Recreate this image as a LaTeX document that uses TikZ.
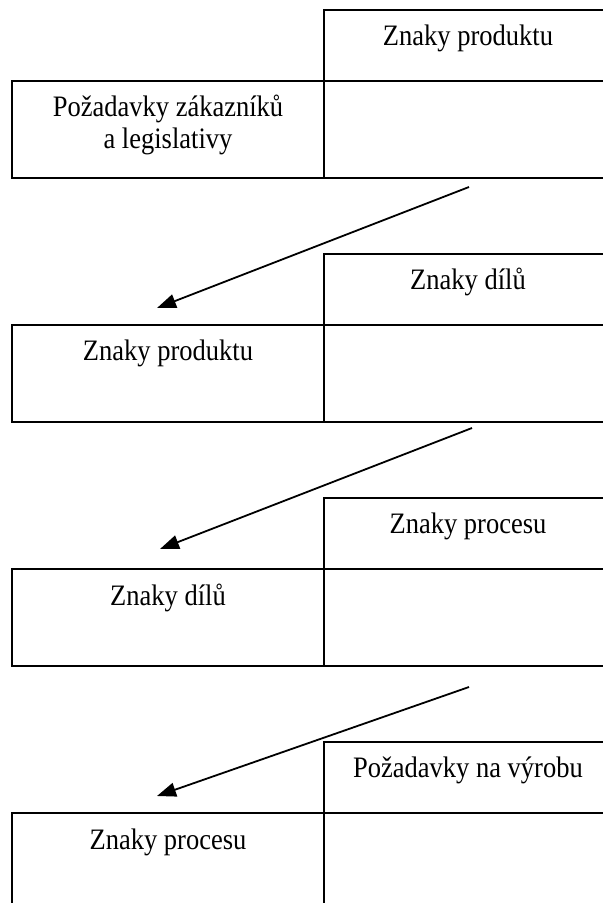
\documentclass[tikz,border=0pt]{standalone}
\usepackage{fontspec}
\usepackage{graphicx}
\setmainfont{Liberation Serif}
\usetikzlibrary{arrows.meta}
\newcommand{\vstr}[1]{\scalebox{1}[1.12]{#1}}
\tikzset{
  cell/.style={draw=black, line width=2bp, rectangle, inner sep=0pt, outer sep=0pt},
  lcell/.style={cell, minimum width=312bp, minimum height=97bp},
  rtop/.style={cell, minimum width=296bp, minimum height=71bp},
  rbot/.style={cell, minimum width=296bp, minimum height=97bp},
  lbl/.style={anchor=base, inner sep=0pt, font=\fontsize{26.5bp}{31bp}\selectfont},
  flow/.style={line width=1.8bp, -{Triangle[length=19bp,width=14bp]}}
}
\begin{document}
\begin{tikzpicture}[x=1bp,y=-1bp]
\useasboundingbox (0,0) rectangle (603,903);
\clip (0,0) rectangle (603,903);
% group 1
\node[rtop] (T1) at (472,45.5) {};
\node[lcell] (L1) at (168,129.5) {};
\node[rbot] (R1) at (472,129.5) {};
\node[lbl] (t1) at (468,45) {\vstr{Znaky produktu}};
\node[lbl] (l1a) at (168,116.5) {\vstr{Požadavky zákazníků}};
\node[lbl] (l1b) at (168,148) {\vstr{a legislativy}};
% group 2
\node[rtop] (T2) at (472,289.5) {};
\node[lcell] (L2) at (168,373.5) {};
\node[rbot] (R2) at (472,373.5) {};
\node[lbl] (t2) at (468,289) {\vstr{Znaky dílů}};
\node[lbl] (l2) at (168,360) {\vstr{Znaky produktu}};
% group 3
\node[rtop] (T3) at (472,533.5) {};
\node[lcell] (L3) at (168,617.5) {};
\node[rbot] (R3) at (472,617.5) {};
\node[lbl] (t3) at (468,533) {\vstr{Znaky procesu}};
\node[lbl] (l3) at (168,605) {\vstr{Znaky dílů}};
% group 4
\node[rtop] (T4) at (472,777.5) {};
\node[lcell] (L4) at (168,861.5) {};
\node[rbot] (R4) at (472,861.5) {};
\node[lbl] (t4) at (468,777) {\vstr{Požadavky na výrobu}};
\node[lbl] (l4) at (168,849) {\vstr{Znaky procesu}};
% arrows
\coordinate (a1s) at (469,187);
\coordinate (a1e) at (157,308);
\coordinate (a2s) at (472,428);
\coordinate (a2e) at (160,549);
\coordinate (a3s) at (469,687);
\coordinate (a3e) at (157,796);
\draw[flow] (a1s) -- (a1e);
\draw[flow] (a2s) -- (a2e);
\draw[flow] (a3s) -- (a3e);
\end{tikzpicture}
\end{document}
